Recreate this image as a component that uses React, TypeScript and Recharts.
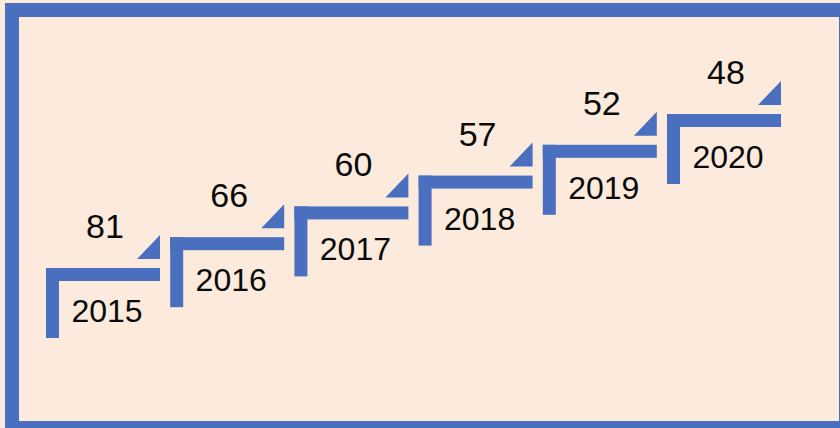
import React from "react";
import { ComposedChart, Bar, XAxis, YAxis } from "recharts";

const years = ["2015", "2016", "2017", "2018", "2019", "2020"];
const values = [81, 66, 60, 57, 52, 48];
const stepLevels = [1, 2, 3, 4, 5, 6];

const data = years.map((year, i) => ({ year, value: values[i], level: stepLevels[i] }));

const BLUE = "#4A6FBF";
const CREAM = "#FCEBDC";
const FONT = "'Liberation Sans', Arial, sans-serif";

const StepShape = (props: any) => {
  const { x, y, payload } = props;
  return (
    <g>
      <rect x={x} y={y} width={13} height={70} fill={BLUE} />
      <rect x={x} y={y} width={114} height={13} fill={BLUE} />
      <polygon
        points={`${x + 114},${y - 33} ${x + 114},${y - 9} ${x + 91},${y - 9}`}
        fill={BLUE}
      />
      <text x={x + 59} y={y - 30} textAnchor="middle" fontSize={34} fontFamily={FONT} fill="#0a0a0a">
        {payload.value}
      </text>
      <text x={x + 61} y={y + 54} textAnchor="middle" fontSize={32} fontFamily={FONT} fill="#0a0a0a">
        {payload.year}
      </text>
    </g>
  );
};

export default function App() {
  return (
    <div style={{ position: "absolute", left: 0, top: 0, width: 840, height: 428, overflow: "hidden", background: CREAM }}>
      <div
        style={{
          position: "absolute",
          left: 5,
          top: 3,
          width: 848,
          height: 432,
          boxSizing: "border-box",
          border: `14px solid ${BLUE}`,
        }}
      />
      <div style={{ position: "absolute", left: 0, top: 0 }}>
        <ComposedChart
          width={840}
          height={428}
          data={data}
          margin={{ top: 114, right: 48.8, bottom: 129.2, left: 46 }}
          barCategoryGap={0}
          barGap={0}
        >
          <XAxis dataKey="year" type="category" hide />
          <YAxis type="number" domain={[0, 6]} hide />
          <Bar dataKey="level" shape={StepShape} isAnimationActive={false} />
        </ComposedChart>
      </div>
    </div>
  );
}
